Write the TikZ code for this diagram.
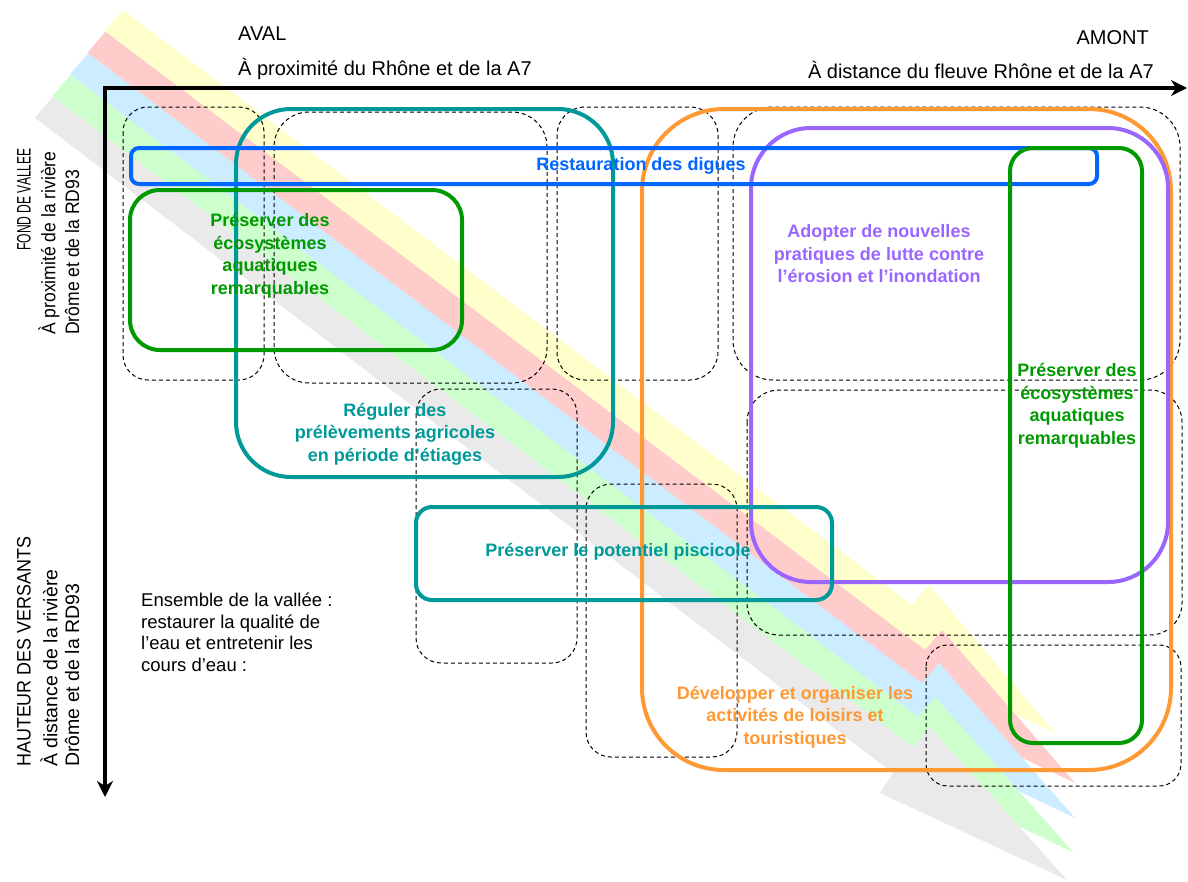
\documentclass[tikz,border=0pt]{standalone}
\usepackage{fontspec}
\setmainfont{Liberation Sans}
\usetikzlibrary{arrows.meta,calc}
\definecolor{cteal}{HTML}{009999}
\definecolor{cblue}{HTML}{0066FF}
\definecolor{cgreen}{HTML}{009900}
\definecolor{corange}{HTML}{FF9933}
\definecolor{cpurple}{HTML}{9966FF}
\definecolor{syellow}{HTML}{FFFFCC}
\definecolor{sred}{HTML}{FFCCCC}
\definecolor{sblue}{HTML}{CCECFF}
\definecolor{sgreen}{HTML}{CCFFCC}
\definecolor{sgray}{HTML}{EAEAEA}
\newcommand\stripearrow[4]{%
  \fill[#1] (#2) -- (#3) -- ($(#3)+(17,-20)$) -- (#4) -- ($(#3)+(-33,46)$) -- ($(#3)+(-20,26)$) -- ($(#2)+(-18,21)$) -- cycle;}
\tikzset{
  dbox/.style={draw=black, line width=1pt, dash pattern=on 4pt off 3pt},
  sbox/.style={line width=4pt},
  boldtxt/.style={font=\fontsize{18}{22.5}\selectfont\bfseries, align=center, inner sep=0pt},
  plaintxt/.style={font=\fontsize{20}{24}\selectfont, inner sep=0pt},
  vtxt/.style={font=\fontsize{19.5}{23}\selectfont, inner sep=0pt, rotate=90},
  axisline/.style={line width=4pt, {Stealth[length=16pt,width=16pt,inset=5pt]}-{Stealth[length=16pt,width=16pt,inset=5pt]}}
}
\begin{document}
\begin{tikzpicture}[x=1pt,y=-1pt]
\fill[white] (0,0) rectangle (1188,881);
\useasboundingbox (0,0) rectangle (1188,881);
% stripes
\stripearrow{syellow}{123,10}{912,605}{1055,733}
\stripearrow{sred}{105.5,31.7}{925,650}{1075,783}
\stripearrow{sblue}{88,53.4}{922,683}{1075,818}
\stripearrow{sgreen}{70.5,75.1}{918,717}{1073,852}
\stripearrow{sgray}{53,96.8}{913,747}{1067,880}
% dashed zones
\draw[dbox, rounded corners=25pt] (123,107) rectangle (264,380);
\draw[dbox, rounded corners=35pt] (274,112) rectangle (547,383);
\draw[dbox, rounded corners=28pt] (557,107) rectangle (718,380);
\draw[dbox, rounded corners=40pt] (733,107) rectangle (1180,380);
\draw[dbox, rounded corners=25pt] (416,389) rectangle (577,663);
\draw[dbox, rounded corners=25pt] (586,484) rectangle (737,757);
\draw[dbox, rounded corners=32pt] (747,390) rectangle (1182,635);
\draw[dbox, rounded corners=22pt] (926,645) rectangle (1181,786);
% axes
\coordinate (O) at (105,88);
\coordinate (hend) at (1187,88);
\coordinate (vend) at (105,797);
\draw[axisline] (vend) -- (O) -- (hend);
% coloured zones
\draw[sbox, cteal, rounded corners=55pt] (236,109) rectangle (613,477);
\draw[sbox, corange, rounded corners=82pt] (642,109) rectangle (1171,770);
\draw[sbox, cpurple, rounded corners=60pt] (751,128) rectangle (1168,582);
\draw[sbox, cgreen, rounded corners=30pt] (130,190) rectangle (462,350);
\draw[sbox, cblue, rounded corners=8pt] (131,148) rectangle (1097,184);
\draw[sbox, cgreen, rounded corners=23pt] (1010,148) rectangle (1142,743);
\draw[sbox, cteal, rounded corners=16pt] (416,507) rectangle (832,600);
% texts in zones
\node[boldtxt, text=cblue] (digues) at (641,166) {Restauration des digues};
\node[boldtxt, text=cgreen] (ecoA) at (270,256) {Préserver des\\écosystèmes\\aquatiques\\remarquables};
\node[boldtxt, text=cteal] (reguler) at (395,434) {Réguler des\\prélèvements agricoles\\en période d’étiages};
\node[boldtxt, text=cpurple] (adopter) at (879,254) {Adopter de nouvelles\\pratiques de lutte contre\\l’érosion et l’inondation};
\node[boldtxt, text=cgreen] (ecoB) at (1077,406) {Préserver des\\écosystèmes\\aquatiques\\remarquables};
\node[boldtxt, text=cteal] (pisci) at (618,552) {Préserver le potentiel piscicole};
\node[boldtxt, text=corange] (loisirs) at (795,717) {Développer et organiser les\\activités de loisirs et\\touristiques};
% axis labels
\node[plaintxt, anchor=base west] (aval) at (238,40) {AVAL};
\node[plaintxt, anchor=base west] (prox) at (238,75) {À proximité du Rhône et de la A7};
\node[plaintxt, anchor=base east] (amont) at (1149,44) {AMONT};
\node[plaintxt, anchor=base east] (dist) at (1154,78) {À distance du fleuve Rhône et de la A7};
\node[vtxt, anchor=east] (fond) at (24,148) {\scalebox{0.62}[1]{FOND DE VALLEE}};
\node[vtxt, anchor=west] (proxr) at (49,335) {\scalebox{0.9}[1]{À proximité de la rivière}};
\node[vtxt, anchor=west] (drA) at (72,335) {\scalebox{0.9}[1]{Drôme et de la RD93}};
\node[vtxt, anchor=west] (haut) at (24,767) {\scalebox{0.92}[1]{HAUTEUR DES VERSANTS}};
\node[vtxt, anchor=west] (distr) at (49,767) {À distance de la rivière};
\node[vtxt, anchor=west] (drB) at (72,767) {Drôme et de la RD93};
\node[font=\fontsize{18.5}{21.5}\selectfont, align=left, anchor=north west, inner sep=0pt] (ens) at (141,593) {Ensemble de la vallée :\\restaurer la qualité de\\l’eau et entretenir les\\cours d’eau :};
\end{tikzpicture}
\end{document}
